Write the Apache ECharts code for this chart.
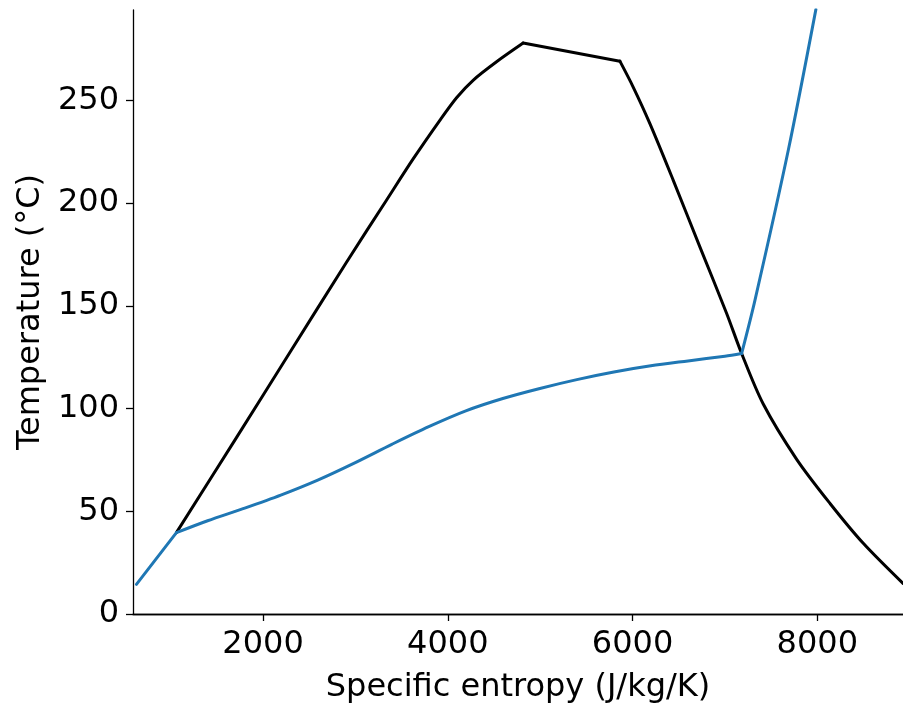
<!DOCTYPE html>
<html>
<head>
<meta charset="utf-8">
<script src="https://cdn.jsdelivr.net/npm/echarts@6/dist/echarts.min.js"></script>
<style>
  html, body { margin: 0; padding: 0; background: #fff; }
  #chart { width: 903px; height: 703px; }
</style>
</head>
<body>
<div id="chart"></div>
<script>
// T-s diagram: saturation dome (black) and process path (blue).
// Each curve is split into its smooth pieces so the corners stay sharp.

// dome: liquid side up to the critical region
const domeLiqEntropy = [1062, 1700, 2300, 2900, 3336, 3625, 3914, 4095, 4274, 4528, 4816];
const domeLiqTemp    = [39.6, 85.0, 128.0, 171.0, 201.4, 221.5, 240.3, 251.3, 259.8, 268.8, 277.9];
// dome: top segment
const domeTopEntropy = [4816, 5863];
const domeTopTemp    = [277.9, 269.1];
// dome: vapour side
const domeVapEntropy = [5863, 6007, 6188, 6441, 6730, 7019, 7181, 7415, 7777, 8138, 8498, 8928];
const domeVapTemp    = [269.1, 256.5, 238.7, 211.1, 178.6, 146.3, 126.8, 102.2, 75.3, 53.8, 34.4, 14.9];

// path: compression to the dome
const pathAEntropy = [629, 1062];
const pathATemp    = [14.4, 39.6];
// path: heating under the dome
const pathBEntropy = [1062, 1400, 1791, 2192, 2592, 2993, 3394, 3794, 4195, 4596, 4997, 5397, 5798, 6198, 6600, 7000, 7181];
const pathBTemp    = [39.6, 45.4, 51.4, 57.9, 65.2, 73.6, 82.6, 91.2, 98.9, 104.9, 109.8, 114.1, 117.8, 120.8, 123.2, 125.5, 126.8];
// path: superheating
const pathCEntropy = [7181, 7325, 7686, 7985];
const pathCTemp    = [126.8, 152.7, 225.7, 294.3];

const xTicks = [2000, 4000, 6000, 8000];
const yTicks = [0, 50, 100, 150, 200, 250];

const font = 'DejaVu Sans';
const fs = 32;
const zip = (a, b) => a.map((v, i) => [v, b[i]]);
const plain = v => String(v);

function curve(sx, ty, color, smooth) {
  return {
    type: 'line', data: zip(sx, ty), showSymbol: false, clip: true, smooth: smooth,
    lineStyle: { color: color, width: 3, cap: 'round', join: 'round' },
    z: color === '#000000' ? 2 : 3
  };
}

const chart = echarts.init(document.getElementById('chart'), null, { renderer: 'canvas' });
chart.setOption({
  animation: false,
  backgroundColor: '#fff',
  grid: { left: 133, right: 0, top: 10, bottom: 89, containLabel: false, outerBoundsMode: 'none' },
  xAxis: [{
    type: 'value', min: 592, max: 8928,
    name: 'Specific entropy (J/kg/K)', nameLocation: 'middle', nameGap: 58,
    nameTextStyle: { fontFamily: font, fontSize: fs, color: '#000' },
    axisLine: { show: true, onZero: false, lineStyle: { color: '#000', width: 1.3 } },
    axisTick: { show: true, length: 7, inside: false, customValues: xTicks, lineStyle: { color: '#000', width: 1.3 } },
    axisLabel: { customValues: xTicks, formatter: plain, margin: 15, fontFamily: font, fontSize: fs, color: '#000' },
    splitLine: { show: false }
  }, {
    type: 'value', position: 'top', min: 592, max: 8928,
    axisLine: { show: true, lineStyle: { color: '#000', width: 1.3 } },
    axisTick: { show: false }, axisLabel: { show: false }, splitLine: { show: false }
  }],
  yAxis: {
    type: 'value', min: 0, max: 294,
    name: 'Temperature (°C)', nameLocation: 'middle', nameGap: 85,
    nameTextStyle: { fontFamily: font, fontSize: fs, color: '#000' },
    axisLine: { show: true, onZero: false, lineStyle: { color: '#000', width: 1.3 } },
    axisTick: { show: true, length: 7, customValues: yTicks, lineStyle: { color: '#000', width: 1.3 } },
    axisLabel: { customValues: yTicks, formatter: plain, margin: 14, fontFamily: font, fontSize: fs, color: '#000' },
    splitLine: { show: false }
  },
  series: [
    curve(domeLiqEntropy, domeLiqTemp, '#000000', 0.3),
    curve(domeTopEntropy, domeTopTemp, '#000000', false),
    curve(domeVapEntropy, domeVapTemp, '#000000', 0.3),
    curve(pathAEntropy, pathATemp, '#1f77b4', false),
    curve(pathBEntropy, pathBTemp, '#1f77b4', 0.3),
    curve(pathCEntropy, pathCTemp, '#1f77b4', 0.3)
  ]
});
</script>
</body>
</html>
